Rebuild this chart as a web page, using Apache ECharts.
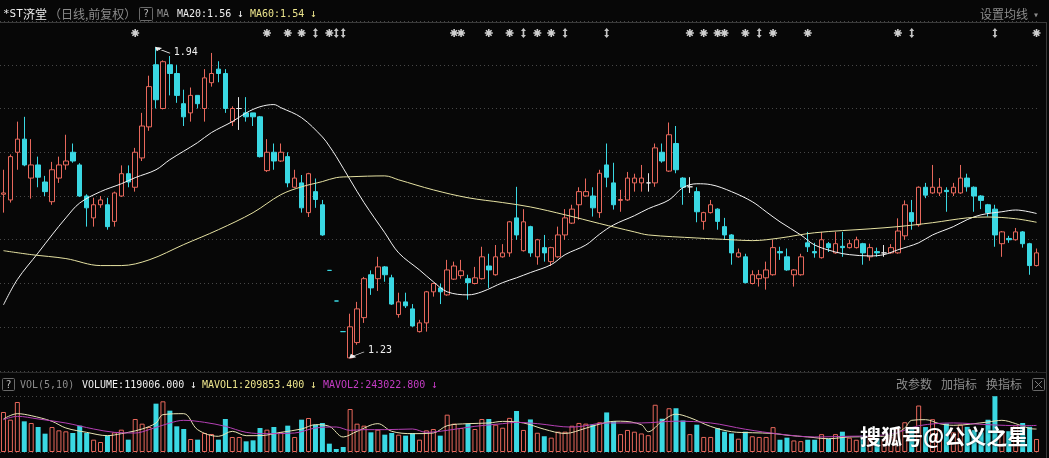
<!DOCTYPE html>
<html><head><meta charset="utf-8">
<script src="https://cdn.jsdelivr.net/npm/echarts@6/dist/echarts.min.js"></script>
<style>html,body{margin:0;padding:0;background:#070707;overflow:hidden}#c{width:1049px;height:458px}</style>
</head><body><div id="c"></div>
<script>
// ---- price data (daily candles, left to right) ----
const opens = [1.604,1.591,1.700,1.730,1.641,1.671,1.632,1.587,1.641,1.671,
1.700,1.671,1.600,1.550,1.580,1.580,1.542,1.600,1.651,1.620,
1.687,1.758,1.900,1.800,1.900,1.880,1.811,1.790,1.830,1.800,
1.859,1.890,1.880,1.770,1.800,1.790,1.790,1.781,1.658,1.700,
1.680,1.690,1.620,1.630,1.562,1.610,1.580,1.43,1.36,1.29,
1.230,1.265,1.322,1.420,1.411,1.438,1.413,1.329,1.358,1.342,
1.290,1.310,1.381,1.390,1.374,1.410,1.418,1.411,1.400,1.411,
1.440,1.420,1.461,1.470,1.550,1.475,1.530,1.461,1.482,1.450,
1.461,1.511,1.538,1.580,1.600,1.600,1.562,1.671,1.630,1.590,
1.591,1.630,1.630,1.630,1.630,1.700,1.657,1.720,1.641,1.621,
1.610,1.542,1.562,1.570,1.530,1.511,1.461,1.461,1.400,1.411,
1.413,1.420,1.473,1.461,1.420,1.420,1.493,1.473,1.459,1.491,
1.470,1.485,1.482,1.482,1.491,1.461,1.473,1.470,1.470,1.470,
1.509,1.562,1.534,1.620,1.607,1.607,1.613,1.607,1.607,1.641,
1.620,1.600,1.580,1.570,1.491,1.503,1.500,1.518,1.491,1.441];
const closes = [1.607,1.690,1.730,1.671,1.671,1.643,1.610,1.660,1.671,1.680,
1.680,1.600,1.573,1.580,1.591,1.530,1.607,1.651,1.632,1.700,
1.760,1.850,1.820,1.907,1.880,1.830,1.781,1.830,1.811,1.870,
1.880,1.880,1.800,1.800,1.800,1.781,1.781,1.690,1.700,1.680,
1.700,1.630,1.641,1.573,1.651,1.592,1.511,1.43,1.36,1.29,
1.301,1.342,1.411,1.390,1.438,1.420,1.353,1.358,1.349,1.303,
1.310,1.381,1.400,1.381,1.431,1.440,1.429,1.402,1.413,1.461,
1.431,1.461,1.470,1.541,1.511,1.541,1.470,1.500,1.470,1.482,
1.511,1.550,1.570,1.610,1.610,1.573,1.652,1.643,1.580,1.592,
1.641,1.641,1.641,1.630,1.710,1.680,1.740,1.660,1.620,1.621,
1.564,1.562,1.580,1.542,1.511,1.470,1.470,1.402,1.420,1.420,
1.431,1.482,1.470,1.431,1.431,1.461,1.484,1.470,1.500,1.482,
1.491,1.482,1.491,1.500,1.470,1.482,1.470,1.470,1.482,1.520,
1.580,1.542,1.620,1.602,1.620,1.620,1.610,1.620,1.641,1.621,
1.600,1.590,1.562,1.511,1.518,1.500,1.518,1.491,1.441,1.470];
const lows = [1.562,1.585,1.660,1.668,1.594,1.620,1.600,1.580,1.630,1.660,
1.676,1.598,1.530,1.530,1.573,1.523,1.530,1.598,1.620,1.610,
1.680,1.749,1.800,1.798,1.830,1.813,1.760,1.770,1.800,1.770,
1.850,1.860,1.790,1.760,1.751,1.770,1.760,1.688,1.655,1.660,
1.678,1.620,1.618,1.562,1.552,1.573,1.509,1.43,1.36,1.29,
1.230,1.260,1.310,1.374,1.383,1.404,1.351,1.322,1.344,1.301,
1.288,1.290,1.370,1.353,1.372,1.408,1.411,1.363,1.398,1.409,
1.390,1.418,1.459,1.461,1.500,1.473,1.461,1.443,1.450,1.440,
1.459,1.500,1.536,1.546,1.598,1.553,1.550,1.620,1.569,1.564,
1.589,1.610,1.610,1.610,1.621,1.676,1.655,1.652,1.580,1.607,
1.540,1.523,1.560,1.523,1.500,1.443,1.459,1.400,1.398,1.393,
1.386,1.418,1.454,1.429,1.393,1.418,1.472,1.459,1.457,1.472,
1.468,1.461,1.480,1.480,1.443,1.452,1.461,1.461,1.468,1.468,
1.500,1.523,1.530,1.595,1.605,1.600,1.564,1.600,1.605,1.610,
1.564,1.570,1.553,1.484,1.461,1.493,1.498,1.482,1.420,1.439];
const highs = [1.660,1.695,1.770,1.781,1.730,1.690,1.646,1.678,1.690,1.740,
1.720,1.675,1.604,1.596,1.600,1.596,1.610,1.670,1.670,1.710,
1.790,1.875,1.940,1.910,1.920,1.900,1.843,1.848,1.830,1.890,
1.927,1.908,1.890,1.805,1.826,1.826,1.790,1.783,1.730,1.720,
1.720,1.700,1.660,1.648,1.653,1.640,1.591,1.43,1.36,1.29,
1.331,1.358,1.415,1.430,1.461,1.440,1.420,1.379,1.379,1.353,
1.317,1.383,1.402,1.400,1.454,1.450,1.454,1.420,1.438,1.484,
1.468,1.488,1.490,1.543,1.621,1.570,1.532,1.502,1.511,1.484,
1.530,1.570,1.580,1.620,1.640,1.620,1.660,1.720,1.676,1.614,
1.655,1.651,1.671,1.652,1.720,1.720,1.768,1.760,1.643,1.643,
1.620,1.564,1.591,1.572,1.550,1.513,1.480,1.468,1.430,1.431,
1.450,1.500,1.484,1.480,1.433,1.468,1.518,1.493,1.518,1.495,
1.518,1.518,1.500,1.507,1.493,1.491,1.482,1.488,1.490,1.549,
1.590,1.591,1.622,1.630,1.671,1.641,1.620,1.630,1.671,1.651,
1.622,1.602,1.582,1.580,1.520,1.509,1.527,1.520,1.493,1.480];
// ---- volume ----
const volumes = [365800,295700,457200,280400,265200,228600,167600,228600,198100,189000,
173700,240800,173700,112800,91400,149400,179800,204200,112800,301800,
259100,228600,442000,463300,378000,234700,210300,118900,112800,173700,
164600,112800,301800,137200,137200,97500,106700,219500,204200,228600,
179800,240800,137200,295700,310900,249900,265200,76200,27400,45700,
393200,259100,240800,179800,204200,158500,173700,158500,149400,173700,
112800,198100,210300,149400,341400,259100,219500,259100,210300,301800,
301800,249900,222000,312000,375000,201700,297700,176100,144000,131200,
185700,185700,240100,265700,259300,249700,272100,361700,281700,163300,
201700,185700,169700,153600,432100,304100,400100,400100,288100,163300,
249700,137600,137600,217700,185700,169700,121600,185700,144000,137600,
137600,227300,112000,131200,105600,99200,112000,112000,163300,121600,
163300,185700,131200,112000,150000,135000,120000,110000,140000,210000,
272000,230000,425000,228000,300000,200000,260000,180000,250000,230000,
200000,180000,295000,510000,195000,190000,245000,265000,230000,119006];
// ---- moving-average lines: [candle index, value] ----
const ma20Pts = [[0,1.351],[2,1.409],[5,1.470],[7,1.511],[9,1.550],[11,1.584],[14,1.610],[17,1.628],[19,1.642],[22,1.660],[24,1.683],[28,1.722],[30,1.745],[33,1.770],[35,1.790],[37,1.804],[39,1.809],[40,1.802],[43,1.779],[46,1.735],[47,1.714],[48,1.690],[50,1.637],[52,1.585],[55,1.516],[57,1.470],[60,1.431],[62,1.404],[64,1.381],[67,1.374],[69,1.381],[72,1.402],[74,1.413],[76,1.425],[79,1.443],[81,1.466],[84,1.488],[86,1.513],[88,1.534],[91,1.555],[93,1.571],[96,1.591],[98,1.619],[100,1.628],[102,1.626],[105,1.610],[108,1.587],[110,1.564],[112,1.541],[115,1.511],[117,1.488],[120,1.472],[122,1.466],[125,1.463],[127,1.466],[129,1.477],[132,1.493],[134,1.511],[137,1.530],[139,1.546],[141,1.557],[144,1.564],[146,1.568],[149,1.560]];
const ma60Pts = [[0,1.475],[4,1.466],[9,1.457],[14,1.441],[17,1.441],[21,1.454],[26,1.489],[31,1.523],[36,1.562],[40,1.603],[43,1.621],[46,1.633],[48,1.642],[50,1.644],[55,1.646],[57,1.637],[62,1.614],[67,1.596],[72,1.585],[76,1.575],[81,1.557],[86,1.537],[91,1.518],[93,1.511],[100,1.504],[105,1.500],[108,1.498],[112,1.504],[117,1.516],[125,1.525],[129,1.530],[134,1.539],[139,1.550],[142,1.552],[146,1.548],[149,1.540]];
const mavol1Pts = [[0,301800],[2,350500],[4,332200],[7,280400],[9,219500],[12,179800],[15,149400],[17,167600],[18,179800],[20,210300],[22,265200],[23,341400],[26,350500],[28,204200],[31,143300],[33,189000],[35,149400],[37,149400],[40,179800],[43,210300],[45,249900],[47,234700],[49,137200],[51,189000],[54,259100],[56,189000],[59,167600],[62,173700],[64,240800],[67,259100],[70,265200],[72,280000],[75,265700],[78,208100],[81,169700],[84,217700],[87,272100],[89,281700],[92,249700],[93,185700],[95,281700],[97,345700],[99,313700],[102,233700],[105,185700],[108,176100],[111,169700],[113,153600],[116,137600],[119,121600],[122,137600],[125,140000],[128,150000],[130,220000],[131,289600],[133,295700],[135,259100],[137,243800],[142,274300],[144,289600],[146,259100],[148,215000],[149,209853.4]];
const mavol2Pts = [[0,295700],[2,326100],[5,301800],[9,265200],[13,210300],[16,179800],[19,173700],[21,204200],[24,265200],[26,289600],[29,271300],[32,234700],[35,179800],[38,167600],[42,173700],[45,219500],[48,228600],[50,198100],[52,204200],[55,204200],[59,210300],[61,179800],[64,198100],[68,234700],[72,259100],[74,271300],[77,259300],[82,227300],[87,265700],[92,265700],[97,281700],[102,265700],[107,208100],[112,163300],[117,137600],[122,144000],[126,150000],[129,180000],[132,240100],[137,265700],[142,249700],[147,240100],[149,243022.8]];
// ---- information markers in the top row ----
const starIdx = [19,38,41,43,47,65,66,70,73,77,79,99,101,103,104,107,111,116,129,149];
const arrowIdx = [45,48,49,75,81,87,109,131,143];
// ---- header texts ----
const stockName = ['*ST','济堂'];
const titleNote = '（日线,前复权）';
const maTexts = ['MA20:1.56','MA60:1.54'];
const volTexts = ['VOL(5,10)','VOLUME:119006.000','MAVOL1:209853.400','MAVOL2:243022.800'];
const rightMenu = ['改参数','加指标','换指标'];

const categories = opens.map((_, i) => 'D' + (i + 1));
const RED = '#e8685c', CYAN = '#3ad8e3', BG = '#070707', WHITE = '#eeeeee',
      YEL = '#ece48c', MAG = '#c43cc4', GRAY = '#8c8c8c';
const MONO = '"DejaVu Sans Mono", monospace', CJK = '"Noto Sans CJK SC", sans-serif';

const candleData = opens.map((o, i) => {
  const it = { value: [o, closes[i], lows[i], highs[i]] };
  if (highs[i] === lows[i]) it.itemStyle = { color: CYAN, color0: CYAN, borderColor: CYAN, borderColor0: CYAN, borderColorDoji: CYAN };
  return it;
});
const isUp = i => closes[i] > opens[i] || (closes[i] === opens[i] && highs[i] !== lows[i]);
const volData = volumes.map((v, i) => ({
  value: v,
  itemStyle: isUp(i) ? { color: BG, borderColor: RED, borderWidth: 1 } : { color: CYAN }
}));

function txt(x, y, text, fill, font, align) {
  return { type: 'text', x: x, y: y, silent: true, z: 100,
    style: { text: text, fill: fill, font: font, align: align || 'left',
             verticalAlign: 'middle', textVerticalAlign: 'middle' } };
}
function ln(x1, y1, x2, y2, c, w) {
  return { type: 'line', silent: true, z: 90, shape: { x1, y1, x2, y2 }, style: { stroke: c, lineWidth: w || 1 } };
}
const graphics = [
  ln(0, 22.5, 1046, 22.5, '#3a3a3a'),
  ln(1046.5, 22, 1046.5, 458, '#3a3a3a'),
  ln(0, 372.5, 1046, 372.5, '#2a2a2a'),
  txt(3, 14, stockName[0], WHITE, '11px ' + MONO),
  txt(23, 14, stockName[1], WHITE, '12px ' + CJK),
  txt(49, 14, titleNote, GRAY, '12px ' + CJK),
  { type: 'rect', silent: true, z: 100, shape: { x: 139.5, y: 7.5, width: 13, height: 13, r: 1 }, style: { fill: 'none', stroke: '#6a6a6a' } },
  txt(146, 14, '?', '#bdbdbd', '10px ' + MONO, 'center'),
  txt(157, 14, 'MA', GRAY, '10px ' + MONO),
  txt(177, 14, maTexts[0], WHITE, '10px ' + MONO),
  txt(237, 14, '↓', WHITE, '11px ' + MONO),
  txt(250, 14, maTexts[1], YEL, '10px ' + MONO),
  txt(310, 14, '↓', YEL, '11px ' + MONO),
  txt(980, 14, '设置均线', GRAY, '12px ' + CJK),
  txt(1033, 15, '▾', GRAY, '10px ' + MONO),
  { type: 'rect', silent: true, z: 100, shape: { x: 2.5, y: 378.5, width: 12, height: 12, r: 1 }, style: { fill: 'none', stroke: '#6a6a6a' } },
  txt(8.5, 385, '?', '#bdbdbd', '10px ' + MONO, 'center'),
  txt(20, 385, volTexts[0], GRAY, '10px ' + MONO),
  txt(82, 385, volTexts[1], WHITE, '10px ' + MONO),
  txt(190, 385, '↓', WHITE, '11px ' + MONO),
  txt(202, 385, volTexts[2], YEL, '10px ' + MONO),
  txt(310, 385, '↓', YEL, '11px ' + MONO),
  txt(323, 385, volTexts[3], MAG, '10px ' + MONO),
  txt(431, 385, '↓', MAG, '11px ' + MONO),
  txt(896, 384, rightMenu[0], GRAY, '12px ' + CJK),
  txt(941, 384, rightMenu[1], GRAY, '12px ' + CJK),
  txt(986, 384, rightMenu[2], GRAY, '12px ' + CJK),
  { type: 'rect', silent: true, z: 100, shape: { x: 1032.5, y: 378.5, width: 12, height: 12, r: 1 }, style: { fill: 'none', stroke: '#6a6a6a' } },
  ln(1035, 381, 1042, 388, '#7a7a7a'), ln(1042, 381, 1035, 388, '#7a7a7a'),
  { type: 'text', x: 860, y: 436, silent: true, z: 200,
    style: { text: '搜狐号@公义之星', fill: '#ffffff', font: 'bold 21px ' + CJK,
             verticalAlign: 'middle', textVerticalAlign: 'middle',
             textShadowColor: 'rgba(0,0,0,0.7)', textShadowBlur: 3 } }
];

const hiddenCat = (gi) => ({
  type: 'category', gridIndex: gi, data: categories, boundaryGap: true,
  axisLine: { show: false }, axisTick: { show: false }, axisLabel: { show: false }, splitLine: { show: false }
});

const option = {
  backgroundColor: BG,
  animation: false,
  grid: [
    { left: 0, top: 21, width: 1040, height: 350, outerBoundsMode: 'none', containLabel: false },
    { left: 0, top: 396, width: 1040, height: 56, outerBoundsMode: 'none', containLabel: false },
    { left: 0, top: 27, width: 1040, height: 12, outerBoundsMode: 'none', containLabel: false }
  ],
  xAxis: [hiddenCat(0), hiddenCat(1), hiddenCat(2)],
  yAxis: [
    { type: 'value', gridIndex: 0, min: 1.2, max: 2.0, interval: 0.1,
      axisLine: { show: false }, axisTick: { show: false }, axisLabel: { show: false },
      splitLine: { show: true, lineStyle: { color: '#474747', type: [1, 3], width: 1 } } },
    { type: 'value', gridIndex: 1, min: 0, max: 512000, interval: 512000,
      axisLine: { show: false }, axisTick: { show: false }, axisLabel: { show: false },
      splitLine: { show: true, lineStyle: { color: '#474747', type: [1, 3], width: 1 } } },
    { type: 'value', gridIndex: 2, min: 0, max: 1, show: false }
  ],
  series: [
    { type: 'candlestick', xAxisIndex: 0, yAxisIndex: 0, data: candleData, barWidth: 5, z: 2,
      itemStyle: { color: BG, color0: CYAN, borderColor: RED, borderColor0: CYAN, borderColorDoji: '#e6e6e6', borderWidth: 1 },
      emphasis: { disabled: true },
      markPoint: {
        silent: true,
        itemStyle: { color: '#f0f0f0', borderColor: '#f0f0f0', borderWidth: 1 },
        label: { show: true, position: 'right', distance: 3, color: '#f0f0f0', fontFamily: MONO, fontSize: 10,
                 formatter: p => Number(p.value).toFixed(2) },
        data: [
          { type: 'max', valueDim: 'highest', symbol: 'path://M0,0 L5,0.8 L1.2,3.2 Z M1,1 L14,6',
            symbolSize: [14, 6], symbolKeepAspect: false, symbolOffset: [7, 3], label: { offset: [0, 2] } },
          { type: 'min', valueDim: 'lowest', symbol: 'path://M0,6 L5,5.2 L1.2,2.8 Z M1,5 L14,0',
            symbolSize: [14, 6], symbolKeepAspect: false, symbolOffset: [7, -3], label: { offset: [0, -4] } }
        ]
      } },
    { type: 'line', xAxisIndex: 0, yAxisIndex: 0, data: ma20Pts, smooth: 0.35, showSymbol: false, z: 5,
      lineStyle: { color: '#f2f2f2', width: 1 }, silent: true },
    { type: 'line', xAxisIndex: 0, yAxisIndex: 0, data: ma60Pts, smooth: 0.35, showSymbol: false, z: 5,
      lineStyle: { color: '#e6e2a2', width: 1 }, silent: true },
    { type: 'bar', xAxisIndex: 1, yAxisIndex: 1, data: volData, barWidth: 5, z: 2, silent: true },
    { type: 'line', xAxisIndex: 1, yAxisIndex: 1, data: mavol1Pts, smooth: 0.35, showSymbol: false, z: 5,
      lineStyle: { color: '#e8e4b4', width: 1 }, silent: true },
    { type: 'line', xAxisIndex: 1, yAxisIndex: 1, data: mavol2Pts, smooth: 0.35, showSymbol: false, z: 5,
      lineStyle: { color: '#b440b4', width: 1 }, silent: true },
    { type: 'scatter', xAxisIndex: 2, yAxisIndex: 2, data: starIdx.map(i => [i, 0.5]), silent: true,
      symbol: 'path://M4,0 L4,8 M0,4 L8,4 M1.2,1.2 L6.8,6.8 M6.8,1.2 L1.2,6.8', symbolSize: 8,
      itemStyle: { color: '#cfcfcf', borderColor: '#cfcfcf', borderWidth: 1.6, opacity: 1 } },
    { type: 'scatter', xAxisIndex: 2, yAxisIndex: 2, data: arrowIdx.map(i => [i, 0.5]), silent: true,
      symbol: 'path://M3,0 L6,3 L4,3 L4,7 L6,7 L3,10 L0,7 L2,7 L2,3 L0,3 Z', symbolSize: [5, 10],
      itemStyle: { color: '#c4c4c4', opacity: 1 } }
  ],
  graphic: graphics
};
const chart = echarts.init(document.getElementById('c'), null, { renderer: 'canvas' });
chart.setOption(option);
</script>
</body></html>
